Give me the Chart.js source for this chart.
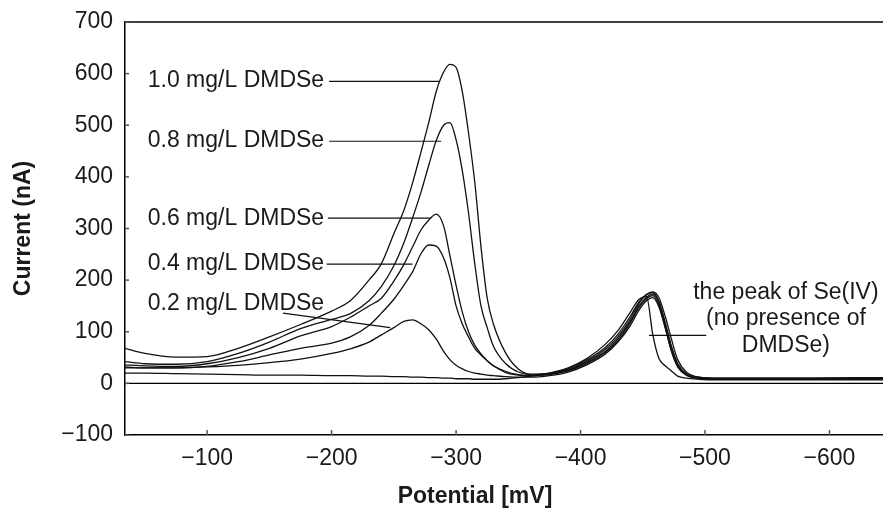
<!DOCTYPE html>
<html>
<head>
<meta charset="utf-8">
<script src="https://cdn.jsdelivr.net/npm/chart.js@4.4.1/dist/chart.umd.min.js"></script>
<style>
  html, body { margin: 0; padding: 0; background: #fff; }
  canvas { display: block; }
</style>
</head>
<body>
<canvas id="myChart" width="883" height="508"></canvas>
<script>
// potential (mV) and current (nA)
const potentials = [-34, -50, -75, -100, -125, -150, -175, -200, -215, -230, -240, -250, -258, -265, -272, -278, -284, -290, -295, -300, -305, -310, -315, -320, -325, -330, -340, -350, -360, -375, -390, -405, -420, -430, -440, -447, -453, -458, -463, -468, -473, -478, -485, -495, -510, -540, -580, -620, -643];

const conc10 = [68, 58, 51, 52, 68, 90, 114, 140, 160, 200, 232, 290, 335, 388, 450, 505, 565, 603, 618, 612, 565, 485, 390, 265, 165, 115, 58, 28, 18, 20, 28, 45, 70, 95, 130, 158, 172, 176, 158, 118, 72, 38, 18, 12, 10, 10, 10, 11, 11];
const conc08 = [42, 38, 37, 42, 58, 80, 106, 124, 135, 160, 188, 228, 272, 320, 372, 422, 470, 500, 505, 472, 412, 330, 232, 150, 108, 72, 38, 22, 17, 19, 26, 42, 66, 90, 125, 155, 172, 177, 166, 130, 86, 46, 22, 12, 10, 10, 10, 10, 10];
const conc06 = [36, 34, 33, 38, 50, 68, 92, 110, 128, 150, 165, 198, 230, 264, 298, 316, 328, 305, 248, 190, 138, 100, 74, 57, 44, 34, 21, 16, 15, 18, 25, 40, 62, 86, 120, 150, 167, 173, 158, 115, 70, 38, 18, 11, 9, 9, 9, 9, 9];
const conc04 = [32, 30, 30, 33, 42, 55, 68, 78, 90, 112, 136, 163, 190, 216, 252, 268, 266, 243, 205, 150, 115, 90, 68, 55, 44, 34, 23, 17, 15, 17, 24, 38, 60, 82, 117, 147, 164, 170, 152, 108, 62, 32, 16, 10, 9, 9, 9, 9, 9];
const conc02 = [30, 30, 30, 32, 35, 40, 47, 58, 67, 80, 94, 108, 120, 123, 115, 104, 86, 62, 46, 35, 28, 23, 20, 18, 16, 15, 13, 12, 12, 15, 22, 36, 57, 80, 112, 142, 160, 166, 148, 108, 64, 33, 17, 10, 9, 9, 9, 9, 9];
const seOnly = [20, 20, 19, 18, 17, 16, 16, 15, 15, 14, 14, 13, 13, 12, 12, 11, 11, 10, 10, 9, 9, 9, 8, 8, 8, 8, 9, 11, 14, 20, 30, 48, 76, 102, 138, 163, 168, 95, 48, 34, 24, 14, 10, 8, 7, 7, 7, 7, 7];

const seriesNames = ["1.0 mg/L DMDSe", "0.8 mg/L DMDSe", "0.6 mg/L DMDSe", "0.4 mg/L DMDSe", "0.2 mg/L DMDSe", "Se(IV)"];
const seriesValues = [conc10, conc08, conc06, conc04, conc02, seOnly];

const xTicks = [-100, -200, -300, -400, -500, -600];
const yTicks = [-100, 0, 100, 200, 300, 400, 500, 600, 700];

// callouts, in data units: [text, textRightX, textY, leader x1, y1, x2, y2]
const callouts = [
    ["1.0 mg/L DMDSe", -194, 587, -198, 585, -287, 585],
    ["0.8 mg/L DMDSe", -194, 471, -198, 469, -288, 469],
    ["0.6 mg/L DMDSe", -194, 320, -197, 320, -280, 320],
    ["0.4 mg/L DMDSe", -194, 231, -196, 231, -265, 231],
    ["0.2 mg/L DMDSe", -194, 155, -161, 136, -247, 108]
];
const seNote = ["the peak of Se(IV)", "(no presence of", "DMDSe)"];

const FONT = "'Liberation Sans', Arial, sans-serif";
const minus = v => (v < 0 ? "\u2212" + Math.abs(v) : String(v));

const decor = {
    id: "decor",
    afterDraw(chart) {
        const { ctx, chartArea: a, scales: { x, y } } = chart;
        ctx.save();
        ctx.strokeStyle = "#000";
        // top frame line
        ctx.lineWidth = 1.5;
        ctx.beginPath();
        ctx.moveTo(a.left, a.top);
        ctx.lineTo(a.right, a.top);
        ctx.stroke();
        // zero line
        ctx.lineWidth = 1.2;
        const y0 = y.getPixelForValue(0);
        ctx.beginPath();
        ctx.moveTo(a.left, y0);
        ctx.lineTo(a.right, y0);
        ctx.stroke();
        // inner tick marks
        ctx.strokeStyle = "#555";
        ctx.lineWidth = 1.5;
        yTicks.forEach(v => {
            const p = y.getPixelForValue(v);
            ctx.beginPath();
            ctx.moveTo(a.left, p);
            ctx.lineTo(a.left + 4, p);
            ctx.stroke();
        });
        xTicks.forEach(v => {
            const p = x.getPixelForValue(v);
            ctx.beginPath();
            ctx.moveTo(p, a.bottom);
            ctx.lineTo(p, a.bottom - 5);
            ctx.stroke();
        });
        // callouts
        ctx.strokeStyle = "#111";
        ctx.lineWidth = 1.2;
        ctx.fillStyle = "#1a1a1a";
        ctx.font = "23px " + FONT;
        ctx.textBaseline = "middle";
        ctx.textAlign = "right";
        callouts.forEach(c => {
            ctx.fillText(c[0], x.getPixelForValue(c[1]), y.getPixelForValue(c[2]));
            ctx.beginPath();
            ctx.moveTo(x.getPixelForValue(c[3]), y.getPixelForValue(c[4]));
            ctx.lineTo(x.getPixelForValue(c[5]), y.getPixelForValue(c[6]));
            ctx.stroke();
        });
        // Se(IV) note
        ctx.textAlign = "center";
        const nx = x.getPixelForValue(-565);
        [176, 126, 74].forEach((v, i) => ctx.fillText(seNote[i], nx, y.getPixelForValue(v)));
        ctx.beginPath();
        ctx.moveTo(x.getPixelForValue(-455), y.getPixelForValue(93));
        ctx.lineTo(x.getPixelForValue(-501), y.getPixelForValue(93));
        ctx.stroke();
        // x axis title
        ctx.font = "bold 23px " + FONT;
        ctx.fillText("Potential [mV]", 475, 497);
        ctx.restore();
    }
};

const ctx = document.getElementById("myChart");

const myChart = new Chart(ctx, {
    type: "line",
    data: {
        datasets: seriesValues.map((vals, k) => ({
            label: seriesNames[k],
            data: potentials.map((p, i) => ({ x: p, y: vals[i] })),
            borderColor: "#111",
            borderWidth: 1.3,
            pointRadius: 0,
            fill: false,
            cubicInterpolationMode: "monotone"
        }))
    },
    options: {
        responsive: false,
        animation: false,
        devicePixelRatio: 1,
        layout: { padding: { top: 22, left: 0, right: 0, bottom: 0 } },
        plugins: {
            legend: { display: false },
            tooltip: { enabled: false }
        },
        scales: {
            x: {
                type: "linear",
                reverse: true,
                min: -643,
                max: -34,
                afterBuildTicks: s => { s.ticks = xTicks.map(v => ({ value: v })); },
                afterFit: s => { s.height = 73; },
                grid: { display: false },
                border: { display: true, color: "#000", width: 1.5 },
                ticks: {
                    padding: 2,
                    color: "#1a1a1a",
                    font: { size: 23, family: FONT },
                    maxRotation: 0,
                    callback: v => minus(v)
                }
            },
            y: {
                min: -100,
                max: 700,
                afterBuildTicks: s => { s.ticks = yTicks.map(v => ({ value: v })); },
                afterFit: s => { s.width = 125; },
                grid: { display: false },
                border: { display: true, color: "#000", width: 1.5 },
                ticks: {
                    padding: 4,
                    color: "#1a1a1a",
                    font: { size: 23, family: FONT },
                    callback: v => minus(v)
                },
                title: {
                    display: true,
                    text: "Current (nA)",
                    color: "#1a1a1a",
                    font: { size: 23, weight: "bold", family: FONT },
                    padding: { top: 10, bottom: 0 }
                }
            }
        }
    },
    plugins: [decor]
});
</script>
</body>
</html>
